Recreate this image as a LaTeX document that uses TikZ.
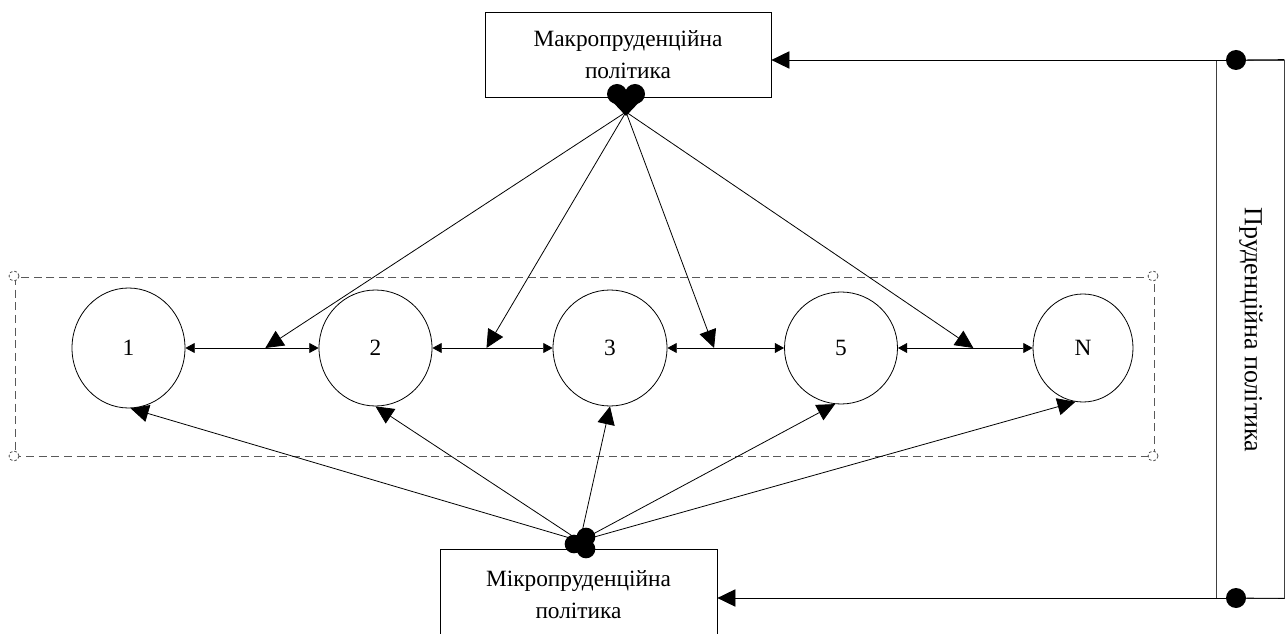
\documentclass[tikz,border=0pt]{standalone}
\usepackage{fontspec}
\setmainfont{Liberation Serif}
\usetikzlibrary{arrows.meta,shapes.geometric}
\begin{document}
\begin{tikzpicture}[x=0.75pt,y=-0.75pt,
  box/.style={draw, line width=0.6pt, align=center, font=\fontsize{17.5}{24}\selectfont, inner sep=0},
  ell/.style={draw, ellipse, inner sep=0, font=\fontsize{17.5}{20}\selectfont, line width=0.6pt},
  con/.style={line width=0.6pt},
  big/.style={con, -{Triangle[length=13.5pt,width=13pt]}},
  dbl/.style={con, {Triangle[length=7pt,width=7.5pt]}-{Triangle[length=7pt,width=7.5pt]}},
  blob/.style={circle, fill, inner sep=0, minimum size=13.5pt},
  dashbox/.style={draw=black!65, dash pattern=on 6pt off 3.5pt, line width=0.6pt},
]
\clip (0,0) rectangle (1288,634);
% boxes
\node[box, minimum width=214.5pt, minimum height=63.75pt] (macro) at (628,54.5) {Макропруденційна\\політика};
\node[box, minimum width=207.75pt, minimum height=69pt] (micro) at (578.5,595) {Мікропруденційна\\політика};
\node[draw=black!75, line width=0.6pt, minimum width=51pt, minimum height=403.5pt, inner sep=0] (pru) at (1250,329) {};
\node[rotate=-90, font=\fontsize{19.5}{22}\selectfont] (prut) at (1251,330) {Пруденційна політика};
% dashed frame
\draw[dashbox] (15,277) rectangle (1154,456);
\foreach \p/\n in {{(14,276)}/fa,{(1153,276)}/fb,{(14,456)}/fc,{(1153,456)}/fd}
  \node[circle, draw=black!70, dash pattern=on 2pt off 1.5pt, line width=0.6pt, minimum size=7.5pt, inner sep=0, fill=white] (\n) at \p {};
% ellipses
\node[ell, minimum width=84.75pt, minimum height=90pt] (c1) at (128.5,348) {1};
\node[ell, minimum width=84.75pt, minimum height=87pt] (c2) at (375.5,348) {2};
\node[ell, minimum width=85.5pt, minimum height=87pt] (c3) at (610,348) {3};
\node[ell, minimum width=84.75pt, minimum height=84pt] (c5) at (841,348) {5};
\node[ell, minimum width=75pt, minimum height=81pt] (cN) at (1083,348) {N};
% horizontal links
\draw[dbl] (c1.east) -- (c2.west) coordinate[pos=0.6] (m1);
\draw[dbl] (c2.east) -- (c3.west) coordinate[pos=0.45] (m2);
\draw[dbl] (c3.east) -- (c5.west) coordinate[pos=0.4] (m3);
\draw[dbl] (c5.east) -- (cN.west) coordinate[pos=0.56] (m4);
% macro hub
\coordinate (mh) at (626,112);
\fill (617,94) circle[radius=7.5pt] (635,94) circle[radius=7.5pt];
\fill (608,97) -- (644,97) -- (626,116) -- cycle;
\draw[big] (mh) -- (m1);
\draw[big] (mh) -- (m2);
\draw[big] (mh) -- (m3);
\draw[big] (mh) -- (m4);
% micro hub
\coordinate (uh) at (580,541);
\fill (574,544) circle[radius=7pt] (586,537) circle[radius=7pt] (586,549) circle[radius=7pt];
\draw[big] (uh) -- (c1.-88);
\draw[big] (uh) -- (c2.-90);
\draw[big] (uh) -- (c3.-90);
\draw[big] (uh) -- (c5.-96);
\draw[big] (uh) -- (cN.-98);
% prudential links
\node[blob, minimum size=15pt] (d1) at (1236,60) {};
\node[blob, minimum size=15pt] (d2) at (1236,598) {};
\draw[big] (d1) -- (macro.east |- d1);
\draw[big] (d2) -- (micro.east |- d2);
\draw[con] (d1) -- (pru.north east);
\draw[con] (d2) -- (pru.south east);
\end{tikzpicture}
\end{document}
